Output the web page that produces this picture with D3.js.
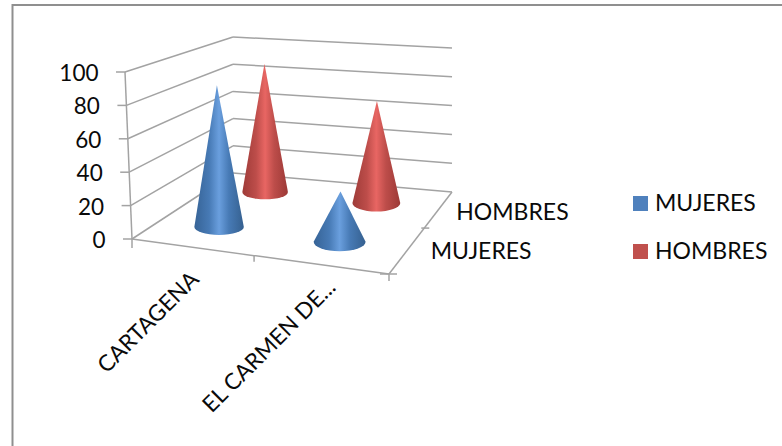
<!DOCTYPE html>
<html>
<head>
<meta charset="utf-8">
<script src="https://cdnjs.cloudflare.com/ajax/libs/d3/7.8.5/d3.min.js"></script>
<style>
  html, body { margin: 0; padding: 0; background: #fff; }
  text { font-family: "Lato", "Open Sans", sans-serif; fill: #0a0a0a; }
</style>
</head>
<body>
<div id="chart"></div>
<script>
const categories = ["CARTAGENA", "EL CARMEN DE..."];
const seriesNames = ["MUJERES", "HOMBRES"];
const mujeres = [89, 31];
const hombres = [89, 69];
const valueTicks = [0, 20, 40, 60, 80, 100];

const width = 782, height = 446;
const svg = d3.select("#chart").append("svg")
  .attr("width", width).attr("height", height);

// Corners of the 3D plot box in screen space: floor and ceiling
const floor = { fl: [132, 239], fr: [389, 274], br: [452, 192], bl: [233, 173] };
const roof  = { fl: [125, 72],  fr: [397, 102], br: [452, 48],  bl: [233, 37] };

const uScale = d3.scaleBand().domain(categories).range([-0.01, 0.97]);
const vScale = d3.scaleBand().domain(seriesNames).range([0.04, 1.04]);
const depthScale = d3.scaleBand().domain(seriesNames).range([0, 1]);
const hScale = d3.scaleLinear().domain([0, 100]).range([0, 1]);

const mix = (a, b, t) => [a[0] + (b[0] - a[0]) * t, a[1] + (b[1] - a[1]) * t];
const onPlane = (p, u, v) => mix(mix(p.fl, p.fr, u), mix(p.bl, p.br, u), v);
const project = (u, v, h) => mix(onPlane(floor, u, v), onPlane(roof, u, v), h);

const gridColor = "#a3a3a3";
const seg = (a, b, c = gridColor, w = 1.5) => svg.append("line")
  .attr("x1", a[0]).attr("y1", a[1]).attr("x2", b[0]).attr("y2", b[1])
  .attr("stroke", c).attr("stroke-width", w);

// Chart frame: left and top edges only
svg.append("path")
  .attr("d", "M12.5,446V5H782")
  .attr("fill", "none").attr("stroke", "#8f8f8f").attr("stroke-width", 2);

// Wall gridlines and vertical axis ticks
valueTicks.forEach(t => {
  const h = hScale(t);
  const front = project(0, 0, h), back = project(0, 1, h), right = project(1, 1, h);
  seg(front, back);
  seg(back, right);
  seg([front[0] - 9, front[1]], front);
  svg.append("text")
    .attr("x", front[0] - 26.5).attr("y", front[1] + 9)
    .attr("text-anchor", "end").attr("font-size", 22.5)
    .text(t);
});

// Vertical axis and floor edges
seg(project(0, 0, 0), project(0, 0, 1));
seg(floor.fl, floor.fr);
seg(floor.fr, floor.br);

// Ticks along the category edge
[[0, 9], [0.475, 6], [1, 7]].forEach(([u, len]) => {
  const p = onPlane(floor, u, 0);
  seg(p, [p[0], p[1] + len]);
});
// Ticks along the depth edge
[[0, -9, 8], [0.56, -3, 5]].forEach(([v, from, to]) => {
  const p = onPlane(floor, 1, v);
  seg([p[0] + from, p[1]], [p[0] + to, p[1]]);
});

// Cone shading across the width of each cone
const defs = svg.append("defs");
const addGradient = (id, stops) => {
  const g = defs.append("linearGradient").attr("id", id)
    .attr("x1", 0).attr("x2", 1).attr("y1", 0).attr("y2", 0);
  stops.forEach(([o, c]) => g.append("stop").attr("offset", o).attr("stop-color", c));
};
addGradient("cone-MUJERES", [[0, "#366396"], [0.3, "#477ab5"], [0.5, "#6a9fde"], [0.7, "#477ab5"], [1, "#35608f"]]);
addGradient("cone-HOMBRES", [[0, "#9e3b38"], [0.3, "#bd4d4a"], [0.5, "#e86663"], [0.7, "#bd4d4a"], [1, "#9c3936"]]);

const valuesBySeries = { MUJERES: mujeres, HOMBRES: hombres };

// Draw from back to front so nearer cones overlap farther ones
["HOMBRES", "MUJERES"].forEach(name => {
  categories.forEach((cat, i) => {
    const u = uScale(cat) + uScale.bandwidth() / 2;
    const v = vScale(name) + vScale.bandwidth() / 2;
    const base = project(u, v, 0);
    const apex = project(u, v, hScale(valuesBySeries[name][i]));
    const floorWidth = Math.hypot(...d3.range(2).map(k =>
      onPlane(floor, 1, v)[k] - onPlane(floor, 0, v)[k]));
    const rx = floorWidth * 0.1 * (1 + 0.05 * (u - 0.25) / 0.5);
    const ry = rx * (0.3 + 0.08 * u);
    svg.append("path")
      .attr("d", `M${apex[0]},${apex[1]}L${base[0] - rx},${base[1]}` +
        `A${rx},${ry} 0 0 0 ${base[0] + rx},${base[1]}Z`)
      .attr("fill", `url(#cone-${name})`);
  });
});

// Category labels, rotated along the diagonal; anchors follow the floor edge
const categoryLabelAnchor = [0.25, 0.735];
const categoryLabelOffset = [[4, 33], [16, 24]];
categories.forEach((cat, i) => {
  const p = onPlane(floor, categoryLabelAnchor[i], 0);
  const [dx, dy] = categoryLabelOffset[i];
  svg.append("text")
    .attr("transform", `translate(${p[0] + dx},${p[1] + dy}) rotate(-45)`)
    .attr("text-anchor", "end").attr("font-size", 22.5)
    .text(cat);
});

// Depth-axis labels
const depthLabelOffset = [[26, 5], [20, 7]];
seriesNames.forEach((name, i) => {
  const p = onPlane(floor, 1, depthScale(name) + depthScale.bandwidth() / 2);
  svg.append("text")
    .attr("x", p[0] + depthLabelOffset[i][0]).attr("y", p[1] + depthLabelOffset[i][1])
    .attr("font-size", 23).text(name);
});

// Legend
const legendColors = d3.scaleOrdinal().domain(seriesNames).range(["#4f81bd", "#c0504d"]);
const legendY = d3.scalePoint().domain(seriesNames).range([203.5, 251.5]);
seriesNames.forEach(name => {
  const y = legendY(name);
  svg.append("rect").attr("x", 633).attr("y", y - 7.5).attr("width", 15).attr("height", 15)
    .attr("fill", legendColors(name));
  svg.append("text").attr("x", 655).attr("y", y + 7.5).attr("font-size", 23).text(name);
});
</script>
</body>
</html>
